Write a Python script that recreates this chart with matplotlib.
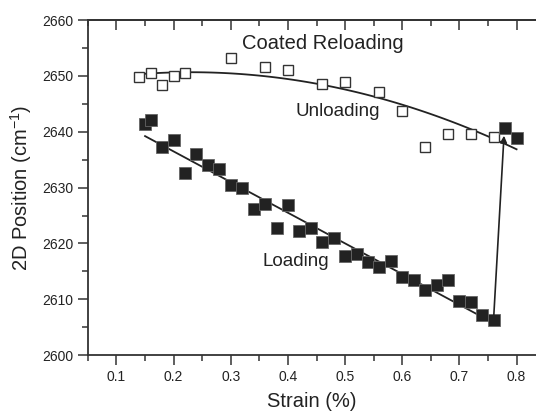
import numpy as np
import matplotlib
matplotlib.use("Agg")
from matplotlib import pyplot as plt

plt.rcParams['font.family'] = ['Liberation Sans', 'DejaVu Sans']
plt.rcParams['mathtext.default'] = 'regular'

# unloading (open squares)
x_un = [0.14, 0.16, 0.18, 0.20, 0.22, 0.30, 0.36, 0.40, 0.46, 0.50,
        0.56, 0.60, 0.64, 0.68, 0.72, 0.76]
y_un = [2649.8, 2650.6, 2648.4, 2650.0, 2650.6, 2653.3, 2651.6, 2651.1, 2648.5, 2649.0,
        2647.2, 2643.8, 2637.2, 2639.6, 2639.6, 2639.1]

# loading (filled squares)
x_lo = [0.15, 0.16, 0.18, 0.20, 0.22, 0.24, 0.26, 0.28, 0.30, 0.32,
        0.34, 0.36, 0.38, 0.40, 0.42, 0.44, 0.46, 0.48, 0.50, 0.52,
        0.54, 0.56, 0.58, 0.60, 0.62, 0.64, 0.66, 0.68, 0.70, 0.72,
        0.74, 0.76]
y_lo = [2641.4, 2642.1, 2637.2, 2638.5, 2632.7, 2636.1, 2634.0, 2633.4, 2630.4, 2629.9,
        2626.1, 2627.0, 2622.8, 2626.8, 2622.2, 2622.8, 2620.2, 2620.9, 2617.8, 2618.1,
        2616.7, 2615.8, 2616.9, 2614.0, 2613.4, 2611.7, 2612.6, 2613.4, 2609.7, 2609.6,
        2607.1, 2606.2]

# reloading (filled squares after the jump)
x_re = [0.78, 0.80]
y_re = [2640.6, 2638.9]

fig = plt.figure(figsize=(5.36, 4.11), dpi=100)
ax = fig.add_axes([0.164, 0.136, 0.836, 0.815])

dark = '#222222'

# fits
p_lo = np.polyfit(x_lo, y_lo, 1)
xx = np.linspace(min(x_lo), max(x_lo), 50)
ax.plot(xx, np.polyval(p_lo, xx), color=dark, lw=1.3)

p_un = np.polyfit(x_un + x_re, y_un + y_re, 2)
xx = np.linspace(0.14, 0.80, 100)
ax.plot(xx, np.polyval(p_un, xx), color=dark, lw=1.3)

ax.plot(x_un, y_un, 's', ms=7.5, mfc='white', mec='#333333', mew=1.0, ls='none')
ax.plot(x_lo, y_lo, 's', ms=8, mfc=dark, mec='#666666', mew=0.6, ls='none')
ax.plot(x_re, y_re, 's', ms=8, mfc=dark, mec='#666666', mew=0.6, ls='none')

# jump arrow
ax.annotate('', xy=(x_re[0] - 0.002, 2639.3), xytext=(x_lo[-1], y_lo[-1] + 0.6),
            arrowprops=dict(arrowstyle='-|>', color=dark, lw=1.2,
                            mutation_scale=10, shrinkA=0, shrinkB=0))

ax.text(0.461, 2655.9, 'Coated Reloading', fontsize=14.5, color=dark,
        ha='center', va='center')
ax.text(0.487, 2643.6, 'Unloading', fontsize=13.5, color=dark,
        ha='center', va='center')
ax.text(0.414, 2616.7, 'Loading', fontsize=13.5, color=dark,
        ha='center', va='center')

ax.set_xlim(0.05, 0.834)
ax.set_ylim(2600, 2660)
major_x = np.arange(0.1, 0.81, 0.1)
minor_x = np.arange(0.05, 0.83, 0.05)
ax.set_xticks(major_x)
ax.set_xticks(minor_x, minor=True)
ax.set_yticks(np.arange(2600, 2661, 10))
ax.set_yticks(np.arange(2600, 2661, 5), minor=True)
ax.set_xticklabels(['{:.1f}'.format(v) for v in major_x])

ax.spines['right'].set_visible(False)
for s in ['left', 'bottom', 'top']:
    ax.spines[s].set_color('#333333')
    ax.spines[s].set_linewidth(1.3)

ax.tick_params(axis='both', which='both', colors='#333333', labelcolor=dark,
               labelsize=10, width=1.1, direction='out')
ax.tick_params(axis='both', which='major', length=7)
ax.tick_params(axis='both', which='minor', length=4)

# top axis: ticks pointing into the plot, no labels
top = ax.secondary_xaxis('top')
top.set_xticks(major_x)
top.set_xticks(minor_x, minor=True)
top.tick_params(which='both', direction='in', colors='#333333', width=1.1,
                labeltop=False)
top.tick_params(which='major', length=7)
top.tick_params(which='minor', length=4)
top.spines['top'].set_color('#333333')
top.spines['top'].set_linewidth(1.3)

ax.set_xlabel('Strain (%)', fontsize=14.5, color=dark, labelpad=6)
ax.set_ylabel('2D Position (cm$^{-1}$)', fontsize=14.5, color=dark, labelpad=6)

plt.savefig('out.png', dpi=100)
